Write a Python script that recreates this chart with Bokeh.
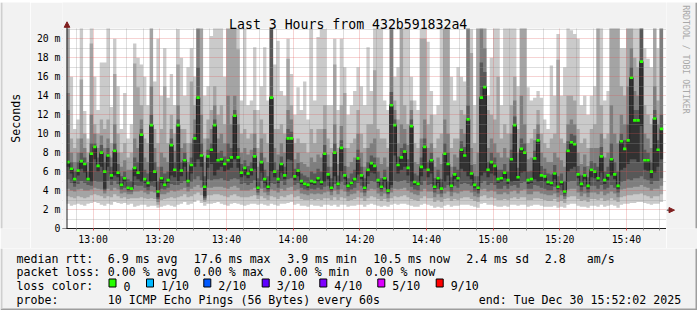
import math
from bokeh.plotting import figure
from bokeh.layouts import column, row
from bokeh.models import Range1d, FixedTicker
from bokeh.core.properties import value
from bokeh.embed import file_html
from bokeh.resources import INLINE

# ---------------- data (one bar per minute, starting 12:52) ----------------
start_minute = 52  # minutes after 12:00

median = [
    7.0, 6.3, 5.2, 6.1, 7.1, 6.8, 5.2, 7.9, 8.6, 6.6,
    8.0, 6.0, 7.7, 5.6, 8.2, 5.9, 4.6, 5.3, 4.3, 4.2,
    6.4, 5.9, 9.9, 5.2, 4.8, 10.9, 6.0, 3.9, 5.3, 4.6,
    5.1, 8.8, 6.2, 10.9, 6.1, 7.2, 5.0, 6.7, 9.5, 13.8,
    7.7, 4.4, 7.6, 8.3, 10.9, 7.2, 7.3, 6.8, 7.2, 7.5,
    11.9, 7.5, 5.9, 6.4, 5.8, 6.2, 7.6, 4.3, 7.0, 5.2,
    4.4, 13.8, 6.0, 5.2, 6.8, 5.6, 9.5, 9.5, 5.5, 6.1,
    5.0, 4.7, 4.6, 5.0, 4.9, 5.3, 4.9, 7.9, 5.7, 4.3,
    8.0, 4.7, 8.5, 5.6, 4.5, 4.8, 5.2, 7.4, 5.6, 4.3,
    6.2, 6.9, 6.6, 5.1, 4.4, 5.3, 4.0, 13.0, 10.9, 6.7,
    7.5, 8.1, 6.4, 10.8, 4.9, 4.7, 6.5, 8.6, 6.2, 7.2,
    4.4, 5.3, 4.2, 7.9, 6.8, 4.5, 5.7, 5.3, 8.3, 7.7,
    11.5, 5.8, 4.6, 4.3, 13.8, 14.9, 6.2, 7.0, 6.6, 5.2,
    5.3, 5.9, 5.1, 7.3, 10.9, 5.4, 8.4, 8.0, 5.1, 5.2,
    7.4, 9.3, 5.6, 5.5, 4.9, 4.8, 5.8, 4.4, 4.9, 3.9,
    8.2, 9.1, 8.9, 5.7, 4.7, 5.6, 4.5, 6.2, 6.0, 5.3,
    7.6, 5.1, 5.6, 7.3, 5.7, 4.5, 9.2, 8.4, 9.3, 15.9,
    11.4, 11.4, 17.6, 7.2, 7.2, 6.0, 11.6, 8.3, 10.5,
]

# sorted pings 1..10 per minute (ms)
ping1 = [
    2.6, 2.4, 2.5, 2.6, 2.5, 2.4, 2.6, 2.7, 2.8, 2.7,
    2.5, 2.4, 2.6, 2.5, 2.8, 2.7, 2.6, 2.7, 2.5, 2.6,
    2.3, 2.4, 2.5, 2.5, 2.3, 2.4, 2.4, 2.2, 2.3, 2.4,
    2.5, 2.4, 2.3, 2.5, 2.6, 2.8, 2.5, 2.6, 2.8, 3.0,
    2.7, 2.4, 2.6, 2.6, 2.7, 2.8, 2.6, 2.5, 2.4, 2.6,
    2.7, 2.6, 2.5, 2.4, 2.5, 2.6, 2.6, 2.5, 2.6, 2.5,
    2.4, 2.6, 2.5, 2.4, 2.6, 2.6, 2.7, 2.8, 2.5, 2.6,
    2.4, 2.4, 2.3, 2.5, 2.4, 2.4, 2.3, 2.5, 2.5, 2.4,
    2.5, 2.3, 2.5, 2.5, 2.3, 2.4, 2.4, 2.5, 2.5, 2.3,
    2.5, 2.6, 2.5, 2.4, 2.3, 2.4, 2.3, 2.5, 2.6, 2.5,
    2.6, 2.6, 2.5, 2.4, 2.3, 2.3, 2.5, 2.6, 2.5, 2.4,
    2.2, 2.3, 2.2, 2.4, 2.5, 2.3, 2.4, 2.4, 2.5, 2.5,
    2.5, 2.4, 2.3, 2.2, 2.6, 2.7, 2.5, 2.5, 2.4, 2.3,
    2.3, 2.4, 2.3, 2.5, 2.5, 2.4, 2.5, 2.5, 2.3, 2.4,
    2.5, 2.5, 2.4, 2.3, 2.3, 2.3, 2.4, 2.2, 2.3, 2.2,
    2.5, 2.6, 2.6, 2.4, 2.3, 2.3, 2.2, 2.4, 2.4, 2.3,
    2.5, 2.3, 2.4, 2.5, 2.4, 2.2, 2.5, 2.6, 2.6, 2.7,
    2.7, 2.8, 2.8, 2.7, 2.6, 2.5, 2.6, 2.6, 2.8,
]
ping2 = [
    3.4, 3.3, 3.2, 3.4, 3.3, 3.2, 3.3, 3.5, 3.6, 3.5,
    3.4, 3.2, 3.4, 3.3, 3.6, 3.4, 3.2, 3.3, 3.1, 3.2,
    3.2, 3.2, 3.3, 3.2, 3.1, 3.2, 3.1, 2.5, 3.0, 3.1,
    3.2, 3.3, 3.2, 3.3, 3.4, 3.6, 3.3, 3.4, 3.6, 3.8,
    3.5, 2.8, 3.5, 3.5, 3.6, 3.6, 3.5, 3.4, 3.3, 3.5,
    3.6, 3.4, 3.3, 3.3, 3.3, 3.4, 3.5, 3.1, 3.4, 3.2,
    3.0, 3.4, 3.3, 3.1, 3.4, 3.3, 3.5, 3.6, 3.3, 3.4,
    3.1, 3.0, 3.0, 3.1, 3.0, 3.1, 3.0, 3.2, 3.2, 3.0,
    3.3, 3.0, 3.3, 3.2, 2.9, 3.0, 3.1, 3.3, 3.2, 2.9,
    3.2, 3.4, 3.3, 3.1, 2.9, 3.1, 2.8, 3.2, 3.4, 3.3,
    3.4, 3.5, 3.3, 3.1, 3.0, 2.9, 3.2, 3.4, 3.2, 3.2,
    2.8, 3.0, 2.8, 3.1, 3.2, 2.9, 3.1, 3.0, 3.2, 3.3,
    3.3, 3.1, 2.9, 2.8, 3.4, 3.5, 3.2, 3.3, 3.2, 3.0,
    3.0, 3.1, 3.0, 3.2, 3.3, 3.1, 3.3, 3.3, 3.0, 3.0,
    3.2, 3.2, 3.1, 3.0, 2.9, 2.9, 3.1, 2.8, 2.9, 2.7,
    3.3, 3.4, 3.4, 3.1, 2.9, 3.0, 2.8, 3.1, 3.1, 3.0,
    3.2, 2.9, 3.0, 3.2, 3.0, 2.8, 3.3, 3.4, 3.5, 3.5,
    3.6, 3.6, 3.7, 3.5, 3.4, 3.2, 3.4, 3.4, 3.6,
]
ping3 = [
    4.2, 4.0, 3.9, 4.1, 4.2, 4.0, 4.0, 4.1, 4.3, 4.2,
    4.1, 3.7, 4.2, 4.0, 4.3, 4.1, 3.7, 3.8, 3.6, 3.6,
    3.9, 3.9, 4.0, 3.8, 3.6, 3.9, 3.8, 2.8, 3.6, 3.6,
    3.8, 4.0, 3.9, 4.0, 4.1, 4.3, 3.9, 4.2, 4.4, 4.6,
    4.3, 3.0, 4.3, 4.3, 4.4, 4.4, 4.4, 4.3, 4.2, 4.4,
    4.5, 4.3, 4.0, 4.0, 4.0, 4.1, 4.3, 3.5, 4.2, 3.8,
    3.5, 4.1, 4.0, 3.8, 4.2, 4.0, 4.3, 4.4, 4.0, 4.1,
    3.7, 3.6, 3.5, 3.7, 3.6, 3.7, 3.6, 3.8, 3.9, 3.5,
    4.0, 3.6, 4.1, 3.9, 3.4, 3.6, 3.7, 4.0, 3.8, 3.4,
    4.0, 4.2, 4.1, 3.7, 3.4, 3.7, 3.2, 3.8, 4.2, 4.1,
    4.2, 4.3, 4.0, 3.8, 3.6, 3.5, 3.9, 4.2, 3.9, 3.9,
    3.3, 3.6, 3.3, 3.7, 3.9, 3.4, 3.8, 3.7, 3.9, 4.0,
    4.0, 3.8, 3.4, 3.3, 4.1, 4.2, 3.9, 4.0, 3.9, 3.6,
    3.6, 3.8, 3.6, 3.9, 4.0, 3.7, 4.0, 4.1, 3.6, 3.6,
    3.9, 3.9, 3.7, 3.6, 3.5, 3.5, 3.7, 3.3, 3.5, 3.1,
    4.1, 4.2, 4.2, 3.8, 3.4, 3.7, 3.3, 3.8, 3.8, 3.6,
    3.9, 3.5, 3.7, 3.9, 3.7, 3.3, 4.1, 4.2, 4.3, 4.3,
    4.4, 4.4, 4.6, 4.4, 4.3, 4.0, 4.2, 4.2, 4.5,
]
ping4 = [
    5.2, 4.8, 4.4, 4.7, 5.0, 4.8, 4.6, 4.5, 5.0, 4.9,
    4.9, 4.0, 5.0, 4.6, 5.0, 4.7, 4.1, 4.3, 3.9, 3.9,
    4.6, 4.5, 4.5, 4.3, 4.0, 4.5, 4.4, 3.1, 4.2, 4.1,
    4.3, 4.7, 4.6, 4.6, 4.8, 5.0, 4.4, 4.9, 5.2, 5.5,
    5.1, 3.2, 5.2, 5.1, 5.2, 5.2, 5.3, 5.1, 5.0, 5.2,
    5.3, 5.2, 4.7, 4.8, 4.6, 4.8, 5.1, 3.8, 5.0, 4.3,
    3.9, 4.8, 4.7, 4.3, 5.0, 4.6, 5.2, 5.3, 4.6, 4.8,
    4.3, 4.1, 4.0, 4.2, 4.1, 4.3, 4.1, 4.4, 4.5, 3.9,
    4.7, 4.1, 4.9, 4.6, 3.9, 4.1, 4.3, 4.8, 4.5, 3.8,
    4.7, 5.0, 4.9, 4.3, 3.9, 4.3, 3.6, 4.3, 5.0, 4.9,
    5.0, 5.1, 4.8, 4.4, 4.1, 4.0, 4.6, 5.0, 4.6, 4.7,
    3.8, 4.2, 3.7, 4.3, 4.6, 3.9, 4.5, 4.3, 4.7, 4.8,
    4.7, 4.5, 3.9, 3.7, 4.8, 5.0, 4.6, 4.8, 4.6, 4.2,
    4.2, 4.5, 4.2, 4.5, 4.6, 4.3, 4.8, 4.9, 4.2, 4.2,
    4.6, 4.5, 4.3, 4.2, 4.0, 4.0, 4.4, 3.8, 4.0, 3.4,
    4.9, 5.0, 5.0, 4.5, 3.9, 4.4, 3.8, 4.5, 4.5, 4.2,
    4.6, 4.1, 4.3, 4.6, 4.3, 3.8, 4.9, 5.0, 5.2, 5.1,
    5.3, 5.3, 5.5, 5.2, 5.1, 4.7, 5.0, 5.0, 5.3,
]
ping5 = [
    6.5, 5.8, 4.8, 5.6, 6.3, 5.9, 5.0, 4.9, 7.3, 6.0,
    6.5, 4.2, 6.5, 5.2, 5.6, 5.4, 4.4, 4.9, 4.1, 4.1,
    5.5, 5.2, 4.9, 4.8, 4.4, 4.9, 5.0, 3.3, 4.8, 4.4,
    4.8, 5.6, 5.4, 5.0, 5.5, 6.5, 4.8, 5.8, 6.5, 7.3,
    6.5, 3.4, 6.4, 6.8, 5.6, 6.2, 6.5, 6.0, 6.2, 6.4,
    7.3, 6.4, 5.4, 5.6, 5.3, 5.6, 6.3, 4.1, 5.9, 4.8,
    4.2, 6.0, 5.4, 4.8, 5.9, 5.2, 7.3, 7.2, 5.1, 5.5,
    4.7, 4.5, 4.3, 4.7, 4.6, 4.9, 4.6, 4.9, 5.2, 4.1,
    5.5, 4.5, 6.0, 5.2, 4.3, 4.6, 4.9, 5.7, 5.2, 4.1,
    5.5, 5.9, 5.8, 4.8, 4.2, 4.9, 3.8, 4.6, 7.7, 5.8,
    6.2, 6.5, 5.6, 4.9, 4.6, 4.5, 5.5, 6.3, 5.4, 5.8,
    4.2, 4.8, 4.0, 4.9, 5.6, 4.3, 5.2, 4.9, 6.3, 6.0,
    5.5, 5.2, 4.3, 4.0, 5.6, 5.9, 5.4, 5.8, 5.6, 4.8,
    4.9, 5.3, 4.7, 4.9, 5.0, 5.0, 5.9, 6.0, 4.7, 4.8,
    5.2, 4.9, 5.0, 4.9, 4.6, 4.5, 5.2, 4.2, 4.6, 3.7,
    6.0, 6.3, 6.5, 5.3, 4.4, 5.2, 4.2, 5.4, 5.3, 4.9,
    5.9, 4.7, 5.1, 5.6, 5.2, 4.2, 6.2, 6.4, 6.8, 7.3,
    7.3, 7.0, 10.8, 6.2, 6.1, 5.3, 5.9, 6.5, 7.3,
]
ping6 = [
    7.1, 6.4, 5.3, 6.2, 7.2, 6.9, 5.3, 8.0, 8.7, 6.7,
    8.1, 6.1, 7.8, 5.7, 8.3, 6.0, 4.7, 5.4, 4.4, 4.3,
    6.5, 6.0, 10.0, 5.3, 4.9, 11.0, 6.1, 4.0, 5.4, 4.7,
    5.2, 8.9, 6.3, 11.0, 6.2, 7.3, 5.1, 6.8, 9.6, 13.9,
    7.8, 4.5, 7.7, 8.4, 11.0, 7.3, 7.4, 6.9, 7.3, 7.6,
    12.0, 7.6, 6.0, 6.5, 5.9, 6.3, 7.7, 4.4, 7.1, 5.3,
    4.5, 13.9, 6.1, 5.3, 6.9, 5.7, 9.6, 9.6, 5.6, 6.2,
    5.1, 4.8, 4.7, 5.1, 5.0, 5.4, 5.0, 8.0, 5.8, 4.4,
    8.1, 4.8, 8.6, 5.7, 4.6, 4.9, 5.3, 7.5, 5.7, 4.4,
    6.3, 7.0, 6.7, 5.2, 4.5, 5.4, 4.1, 13.1, 11.0, 6.8,
    7.6, 8.2, 6.5, 10.9, 5.0, 4.8, 6.6, 8.7, 6.3, 7.3,
    4.5, 5.4, 4.3, 8.0, 6.9, 4.6, 5.8, 5.4, 8.4, 7.8,
    11.6, 5.9, 4.7, 4.4, 13.9, 15.0, 6.3, 7.1, 6.7, 5.3,
    5.4, 6.0, 5.2, 7.4, 11.0, 5.5, 8.5, 8.1, 5.2, 5.3,
    7.5, 9.4, 5.7, 5.6, 5.0, 4.9, 5.9, 4.5, 5.0, 4.0,
    8.3, 9.2, 9.0, 5.8, 4.8, 5.7, 4.6, 6.3, 6.1, 5.4,
    7.7, 5.2, 5.7, 7.4, 5.8, 4.6, 9.3, 8.5, 9.4, 16.0,
    11.5, 11.5, 17.7, 7.3, 7.3, 6.1, 11.7, 8.4, 10.6,
]
ping7 = [
    12.5, 7.0, 6.0, 7.0, 8.0, 7.5, 6.0, 9.0, 9.0, 7.5,
    8.8, 7.0, 8.5, 6.5, 9.0, 6.8, 5.5, 6.0, 5.2, 5.0,
    7.5, 7.0, 10.5, 6.2, 5.8, 12.0, 7.0, 5.0, 6.5, 5.8,
    6.0, 9.5, 7.0, 11.5, 7.0, 8.0, 6.0, 7.5, 10.0, 17.0,
    9.0, 5.5, 8.3, 9.0, 11.5, 8.0, 8.2, 7.6, 9.0, 8.5,
    12.5, 8.5, 6.8, 7.2, 6.6, 7.0, 8.5, 5.3, 8.0, 6.2,
    5.5, 22.0, 7.0, 6.2, 7.6, 6.5, 10.5, 10.2, 6.3, 6.9,
    5.8, 5.6, 5.4, 6.0, 5.8, 6.3, 6.0, 8.8, 6.5, 5.3,
    9.0, 5.6, 9.3, 6.6, 5.3, 5.8, 6.2, 8.3, 6.5, 5.3,
    7.0, 7.7, 7.5, 6.0, 5.3, 6.2, 5.0, 14.4, 11.5, 7.6,
    8.5, 9.0, 7.3, 11.5, 5.8, 5.6, 7.5, 9.5, 7.0, 8.0,
    5.3, 6.2, 5.2, 9.0, 8.0, 5.4, 6.5, 6.2, 9.2, 8.6,
    13.0, 6.7, 5.5, 5.5, 17.5, 16.5, 7.0, 8.0, 7.5, 6.2,
    6.2, 6.8, 6.0, 8.3, 11.8, 6.4, 9.5, 9.0, 6.0, 6.1,
    8.2, 10.0, 6.6, 6.3, 5.8, 5.7, 6.7, 5.5, 5.8, 5.0,
    9.2, 10.0, 9.8, 6.6, 5.6, 6.5, 5.4, 7.1, 6.9, 6.5,
    8.6, 6.0, 6.5, 9.0, 7.0, 6.0, 10.0, 9.3, 11.0, 17.0,
    12.5, 12.5, 22.0, 8.3, 8.0, 7.0, 12.5, 9.3, 12.0,
]
ping8 = [
    14.3, 8.0, 7.0, 8.0, 9.5, 8.5, 7.0, 12.0, 10.0, 8.5,
    9.8, 8.5, 9.5, 7.5, 11.0, 8.0, 6.5, 7.2, 6.2, 6.2,
    9.5, 8.5, 11.5, 7.5, 7.0, 15.0, 8.5, 6.5, 8.0, 7.5,
    7.0, 10.5, 8.2, 13.0, 8.5, 9.0, 7.0, 9.0, 11.5, 22.0,
    12.0, 7.0, 9.5, 10.5, 13.0, 9.5, 10.0, 9.0, 14.0, 11.0,
    14.0, 11.0, 8.0, 8.5, 7.8, 8.3, 10.0, 6.5, 9.5, 7.5,
    7.0, 22.0, 8.5, 7.8, 9.0, 8.0, 12.5, 11.5, 7.3, 8.0,
    7.0, 6.8, 6.5, 7.5, 7.0, 7.8, 7.5, 10.5, 7.8, 6.5,
    11.0, 6.8, 10.8, 8.5, 6.5, 7.0, 7.5, 10.0, 8.0, 6.5,
    8.5, 9.0, 9.5, 7.5, 6.8, 7.5, 6.5, 22.0, 12.5, 9.0,
    11.0, 10.5, 8.8, 12.5, 7.0, 6.8, 9.5, 11.5, 8.5, 9.0,
    6.5, 7.5, 6.8, 11.5, 10.0, 6.5, 7.8, 7.5, 10.5, 10.0,
    22.0, 8.5, 6.8, 8.0, 22.0, 19.0, 8.5, 9.5, 9.0, 8.0,
    7.5, 8.5, 7.5, 10.0, 13.5, 8.0, 14.0, 11.0, 7.3, 7.5,
    9.3, 11.0, 8.0, 7.5, 7.0, 7.0, 8.0, 7.5, 7.2, 6.5,
    11.0, 11.5, 11.0, 8.0, 6.8, 7.8, 6.6, 8.5, 8.5, 8.5,
    10.0, 7.5, 8.0, 13.0, 10.0, 9.0, 12.0, 11.0, 15.0, 19.0,
    14.5, 14.0, 22.0, 10.0, 9.5, 8.5, 15.0, 11.0, 22.0,
]
ping9 = [
    22.0, 9.5, 8.5, 9.5, 15.7, 10.0, 8.0, 19.5, 11.0, 10.0,
    11.5, 10.5, 11.5, 9.0, 16.3, 10.0, 8.0, 9.0, 7.5, 8.0,
    17.4, 14.9, 13.0, 9.5, 9.0, 22.0, 10.5, 9.0, 10.5, 15.0,
    9.0, 12.0, 10.0, 17.3, 10.5, 10.5, 9.0, 15.5, 13.0, 22.0,
    22.0, 9.5, 11.5, 12.5, 15.0, 12.0, 13.0, 11.0, 22.0, 22.0,
    22.0, 18.9, 10.0, 10.5, 9.5, 10.0, 12.5, 8.5, 11.5, 10.0,
    9.0, 22.0, 10.5, 10.5, 11.0, 10.0, 17.9, 13.0, 9.0, 9.5,
    9.0, 9.0, 8.0, 10.5, 9.0, 10.5, 10.5, 13.0, 9.5, 8.5,
    17.3, 8.5, 13.0, 14.3, 8.5, 9.0, 9.5, 12.5, 10.0, 8.5,
    11.0, 11.0, 16.7, 10.5, 9.5, 9.5, 8.5, 22.0, 13.5, 11.5,
    22.0, 13.0, 11.0, 13.5, 9.0, 8.5, 20.0, 20.0, 11.0, 12.0,
    8.5, 9.5, 10.0, 22.0, 22.0, 8.5, 9.5, 9.5, 12.5, 12.0,
    22.0, 18.5, 9.0, 22.0, 22.0, 22.0, 12.5, 12.0, 11.5, 16.0,
    9.5, 11.0, 10.0, 13.0, 16.0, 10.5, 22.0, 22.0, 9.0, 9.5,
    10.5, 12.5, 10.0, 9.0, 8.5, 9.5, 10.0, 17.8, 9.5, 9.0,
    14.0, 14.0, 13.5, 10.5, 9.0, 9.5, 8.5, 10.5, 11.0, 22.0,
    13.0, 9.5, 10.0, 22.0, 22.0, 22.0, 15.0, 14.0, 22.0, 22.0,
    18.0, 17.0, 22.0, 13.0, 12.0, 11.0, 22.0, 13.5, 22.0,
]
ping10 = [
    22.0, 16.0, 10.5, 11.5, 22.0, 12.4, 9.5, 22.0, 16.0, 12.5,
    17.5, 17.5, 22.0, 12.8, 20.0, 15.0, 10.5, 14.3, 9.5, 11.0,
    19.5, 18.0, 17.3, 16.0, 13.0, 22.0, 15.5, 20.0, 14.0, 19.0,
    13.8, 16.3, 13.0, 21.0, 18.0, 14.0, 17.0, 19.0, 16.0, 22.0,
    22.0, 14.0, 15.0, 20.3, 22.0, 22.0, 22.0, 16.0, 22.0, 22.0,
    22.0, 22.0, 13.5, 22.0, 13.0, 13.5, 19.1, 12.5, 15.0, 19.1,
    13.5, 22.0, 17.3, 19.8, 14.5, 14.0, 20.0, 16.3, 12.0, 14.9,
    12.5, 15.5, 11.5, 22.0, 13.5, 20.2, 21.5, 21.0, 13.0, 13.0,
    20.0, 12.5, 20.0, 17.0, 12.0, 13.0, 14.5, 17.0, 15.0, 13.0,
    19.1, 14.5, 22.0, 22.0, 22.0, 13.5, 12.5, 22.0, 16.0, 17.0,
    22.0, 22.0, 22.0, 16.0, 13.5, 12.5, 22.0, 22.0, 19.7, 14.5,
    12.0, 13.0, 22.0, 22.0, 22.0, 16.0, 13.5, 17.0, 16.0, 15.5,
    22.0, 21.0, 13.0, 22.0, 22.0, 22.0, 14.0, 18.0, 22.0, 22.0,
    13.0, 22.0, 22.0, 22.0, 22.0, 15.0, 22.0, 22.0, 14.9, 13.5,
    13.8, 14.5, 13.8, 11.5, 10.5, 17.2, 14.0, 20.5, 14.0, 17.0,
    22.0, 20.9, 20.5, 20.0, 13.0, 14.0, 12.0, 14.0, 15.0, 22.0,
    22.0, 13.5, 14.5, 22.0, 22.0, 22.0, 19.0, 19.0, 22.0, 22.0,
    22.0, 22.0, 22.0, 19.0, 17.9, 17.0, 22.0, 19.0, 22.0,
]

x_tick_minutes = [60, 80, 100, 120, 140, 160, 180, 200, 220]
x_tick_labels = ["13:00", "13:20", "13:40", "14:00", "14:20", "14:40", "15:00", "15:20", "15:40"]
y_tick_values = [0, 2, 4, 6, 8, 10, 12, 14, 16, 18, 20]
y_tick_labels = ["0", "2 m", "4 m", "6 m", "8 m", "10 m", "12 m", "14 m", "16 m", "18 m", "20 m"]

loss_labels = ["0", "1/10", "2/10", "3/10", "4/10", "5/10", "9/10"]
loss_colors = ["#26ff00", "#00b8ff", "#0059ff", "#5e00ff", "#7e00ff", "#dd00ff", "#ff0000"]
smoke_colors = ["#cacaca", "#a4a4a4", "#7e7e7e", "#585858", "#323232"]

title_text = "Last 3 Hours from 432b591832a4"
y_label_text = "Seconds"
watermark_text = "RRDTOOL / TOBI OETIKER"
rtt_stats = ["6.9 ms avg", "17.6 ms max", "3.9 ms min", "10.5 ms now", "2.4 ms sd", "2.8", "am/s"]
loss_stats = ["0.00 % avg", "0.00 % max", "0.00 % min", "0.00 % now"]
probe_text = "10 ICMP Echo Pings (56 Bytes) every 60s"
end_text = "end: Tue Dec 30 15:52:02 2025"

# ---------------- layout constants (page pixels) ----------------
W, H = 697, 310
SH = 2                       # width of the 3-D edge shading
LW = 30                      # width of the left strip holding the axis title
GL, GR, GT, GB = 66, 666, 28, 228    # the white graph canvas
FL, FT = 62, SH              # the Bokeh frame starts a bit further left / up
MAIN_B = 20                  # space under the frame for the x labels
BOT_Y = GB + MAIN_B          # top of the legend strip
PX_PER_MIN = 600 / 180.0
PX_PER_MS = 200 / 21.09
T_END = 232.03               # 15:52:02 in minutes after 12:00
X0 = T_END - (GR - FL) / PX_PER_MIN
X1 = T_END
Y0 = 0.0
Y1 = (GB - FT) / PX_PER_MS
MONO = "DejaVu Sans Mono"
BG = "#f2f2f2"
SHADE_A = "#cfcfcf"
SHADE_B = "#9e9e9e"
ARROW = "#801f1f"
AXIS = "#1f1f1f"


def X(px):
    return X0 + (px - FL) / PX_PER_MIN


def Y(py):
    return (GB - py) / PX_PER_MS


def strip(x0, y0, w, h, bg=BG):
    """A figure whose frame is a plain pixel canvas covering page area (x0, y0, w, h)."""
    f = figure(width=w, height=h, output_backend="svg", toolbar_location=None, title=None,
               x_range=Range1d(x0, x0 + w), y_range=Range1d(y0 + h, y0),
               x_axis_location=None, y_axis_location=None, min_border=0)
    f.min_border_left = f.min_border_right = f.min_border_top = f.min_border_bottom = 0
    f.background_fill_color = bg
    f.border_fill_color = bg
    f.outline_line_color = None
    f.xgrid.visible = False
    f.ygrid.visible = False
    return f


def txt(f, px, py, s, size="11.6px", color="black", align="left", angle=0.0, level="glyph"):
    f.text(x=[px], y=[py], text=[s], text_font=value(MONO), text_font_size=value(size),
           text_color=color, text_align=align, text_baseline="alphabetic", angle=angle,
           level=level)


def rect(f, l, r, t, b, color, line=None, level="glyph"):
    f.quad(left=[l], right=[r], top=[t], bottom=[b], fill_color=color, line_color=line,
           line_width=1, level=level)


# ---------------- main plot ----------------
p = figure(width=GR - LW, height=BOT_Y - SH, output_backend="svg", toolbar_location=None,
           title=None, x_range=Range1d(X0, X1), y_range=Range1d(Y0, Y1))
p.min_border_left = FL - LW
p.min_border_right = 0
p.min_border_top = 0
p.min_border_bottom = MAIN_B
p.background_fill_color = "white"
p.border_fill_color = BG
p.outline_line_color = None

n = len(median)
lefts = [start_minute + i for i in range(n)]
xs = lefts + [start_minute + n]


def ext(a):
    return list(a) + [a[-1]]


pairs = [(ping1, ping10), (ping2, ping9), (ping3, ping8), (ping4, ping7), (ping5, ping6)]
for (lo, hi), col in zip(pairs, smoke_colors):
    p.varea_step(x=xs, y1=ext(lo), y2=ext(hi), step_mode="after", fill_color=col)

p.step(x=xs, y=ext(median), mode="after", line_color="#202020", line_width=1)
p.quad(left=lefts, right=[l + 1 for l in lefts],
       bottom=[m - 0.14 for m in median], top=[m + 0.14 for m in median],
       fill_color=loss_colors[0], line_color=None)

minor_x = [m for m in range(55, 232, 5) if m % 20]
p.xaxis.ticker = FixedTicker(ticks=x_tick_minutes, minor_ticks=minor_x)
p.xaxis.major_label_overrides = {t: l for t, l in zip(x_tick_minutes, x_tick_labels)}
p.yaxis.ticker = FixedTicker(ticks=y_tick_values, minor_ticks=list(range(1, 22, 2)))
p.yaxis.major_label_overrides = {t: l for t, l in zip(y_tick_values, y_tick_labels)}

for ax in (p.xaxis[0], p.yaxis[0]):
    ax.major_label_text_font = MONO
    ax.major_label_text_font_size = "9.8px"
    ax.major_label_text_color = "black"
p.xaxis.axis_line_color = AXIS
p.xaxis.major_tick_line_color = "#de4f4f"
p.xaxis.major_tick_in = 0
p.xaxis.major_tick_out = 2
p.xaxis.minor_tick_line_color = "#8f8f8f"
p.xaxis.minor_tick_in = 0
p.xaxis.minor_tick_out = 2
p.xaxis.major_label_standoff = 3
p.yaxis.axis_line_color = None
p.yaxis.major_tick_line_color = None
p.yaxis.minor_tick_line_color = None
p.yaxis.major_tick_in = 0
p.yaxis.major_tick_out = 0
p.yaxis.minor_tick_in = 0
p.yaxis.minor_tick_out = 0
p.yaxis.major_label_standoff = FL - 60

for g in (p.xgrid[0], p.ygrid[0]):
    g.grid_line_color = "#de4f4f"
    g.grid_line_alpha = 0.5
    g.grid_line_dash = "1 1"
    g.minor_grid_line_color = "#8f8f8f"
    g.minor_grid_line_alpha = 0.6
    g.minor_grid_line_dash = "1 1"
    g.level = "annotation"
p.xgrid.ticker = p.xaxis[0].ticker
p.ygrid.ticker = p.yaxis[0].ticker

# border bands inside the frame (above the graph canvas and left of it)
rect(p, X(FL), X(GR), Y(GT), Y(FT), BG, level="overlay")
rect(p, X(FL), X(GL), Y(GB), Y(GT), BG, level="overlay")
# y axis with its arrow
p.segment(x0=[X(GL + 0.5)], y0=[Y(GB)], x1=[X(GL + 0.5)], y1=[Y(24)], line_color=AXIS,
          line_width=1, level="overlay")
p.patch(x=[X(GL + 0.5 - 2.8), X(GL + 0.5), X(GL + 0.5 + 2.8)], y=[Y(26.8), Y(21.3), Y(26.8)],
        fill_color=ARROW, line_color=ARROW, level="overlay")
# title
p.text(x=[X(347.7)], y=[Y(24)], text=[title_text], text_font=value(MONO),
       text_font_size=value("13.2px"), text_color="black", text_align="center",
       text_baseline="alphabetic", level="overlay")

# ---------------- edge strips ----------------
top = strip(0, 0, W, SH, bg=SHADE_A)
rect(top, W - SH, W, 0, SH, SHADE_B)

left = strip(0, SH, LW, BOT_Y - SH)
rect(left, 0, SH, SH, BOT_Y, SHADE_A)
txt(left, 15, 128, y_label_text, align="center", angle=math.pi / 2)

right = strip(GR, SH, W - GR, BOT_Y - SH)
rect(right, W - SH, W, SH, BOT_Y, SHADE_B)
txt(right, 685, 5, watermark_text, size="8.2px", color="#a8a8a8", angle=-math.pi / 2)
right.segment(x0=[GR], y0=[GB], x1=[670], y1=[GB], line_color=AXIS, line_width=1)
right.patch(x=[668.5, 674, 668.5], y=[GB - 2.8, GB, GB + 2.8], fill_color=ARROW, line_color=ARROW)

# ---------------- bottom strip: legend ----------------
bot = strip(0, BOT_Y, W, H - BOT_Y)
rect(bot, 0, W, H - SH, H, SHADE_B)
rect(bot, W - SH, W, BOT_Y, H, SHADE_B)
rect(bot, 0, SH, BOT_Y, H - SH, SHADE_A)

txt(bot, 16, 258, "median rtt:")
for xp, s in zip([107.3, 193.3, 286.7, 372.7, 465.7, 544.3, 586.3], rtt_stats):
    txt(bot, xp, 258, s)
txt(bot, 16, 271.7, "packet loss:")
for xp, s in zip([107.3, 193.3, 279.3, 365.0], loss_stats):
    txt(bot, xp, 271.7, s)
txt(bot, 16, 285.5, "loss color:")
box_lefts = [108.5, 146.0, 203.3, 261.7, 319.3, 377.3, 435.7]
for bl, lab, col in zip(box_lefts, loss_labels, loss_colors):
    rect(bot, bl, bl + 7, 278.5, 286.5, col, "black")
    txt(bot, bl + 14.5, 285.5, lab)
txt(bot, 16, 299.3, "probe:")
txt(bot, 107.3, 299.3, probe_text)
txt(bot, 478.3, 299.3, end_text)

layout = column(top, row(left, p, right, spacing=0), bot, spacing=0)
open("out.html", "w").write(file_html(layout, INLINE))
